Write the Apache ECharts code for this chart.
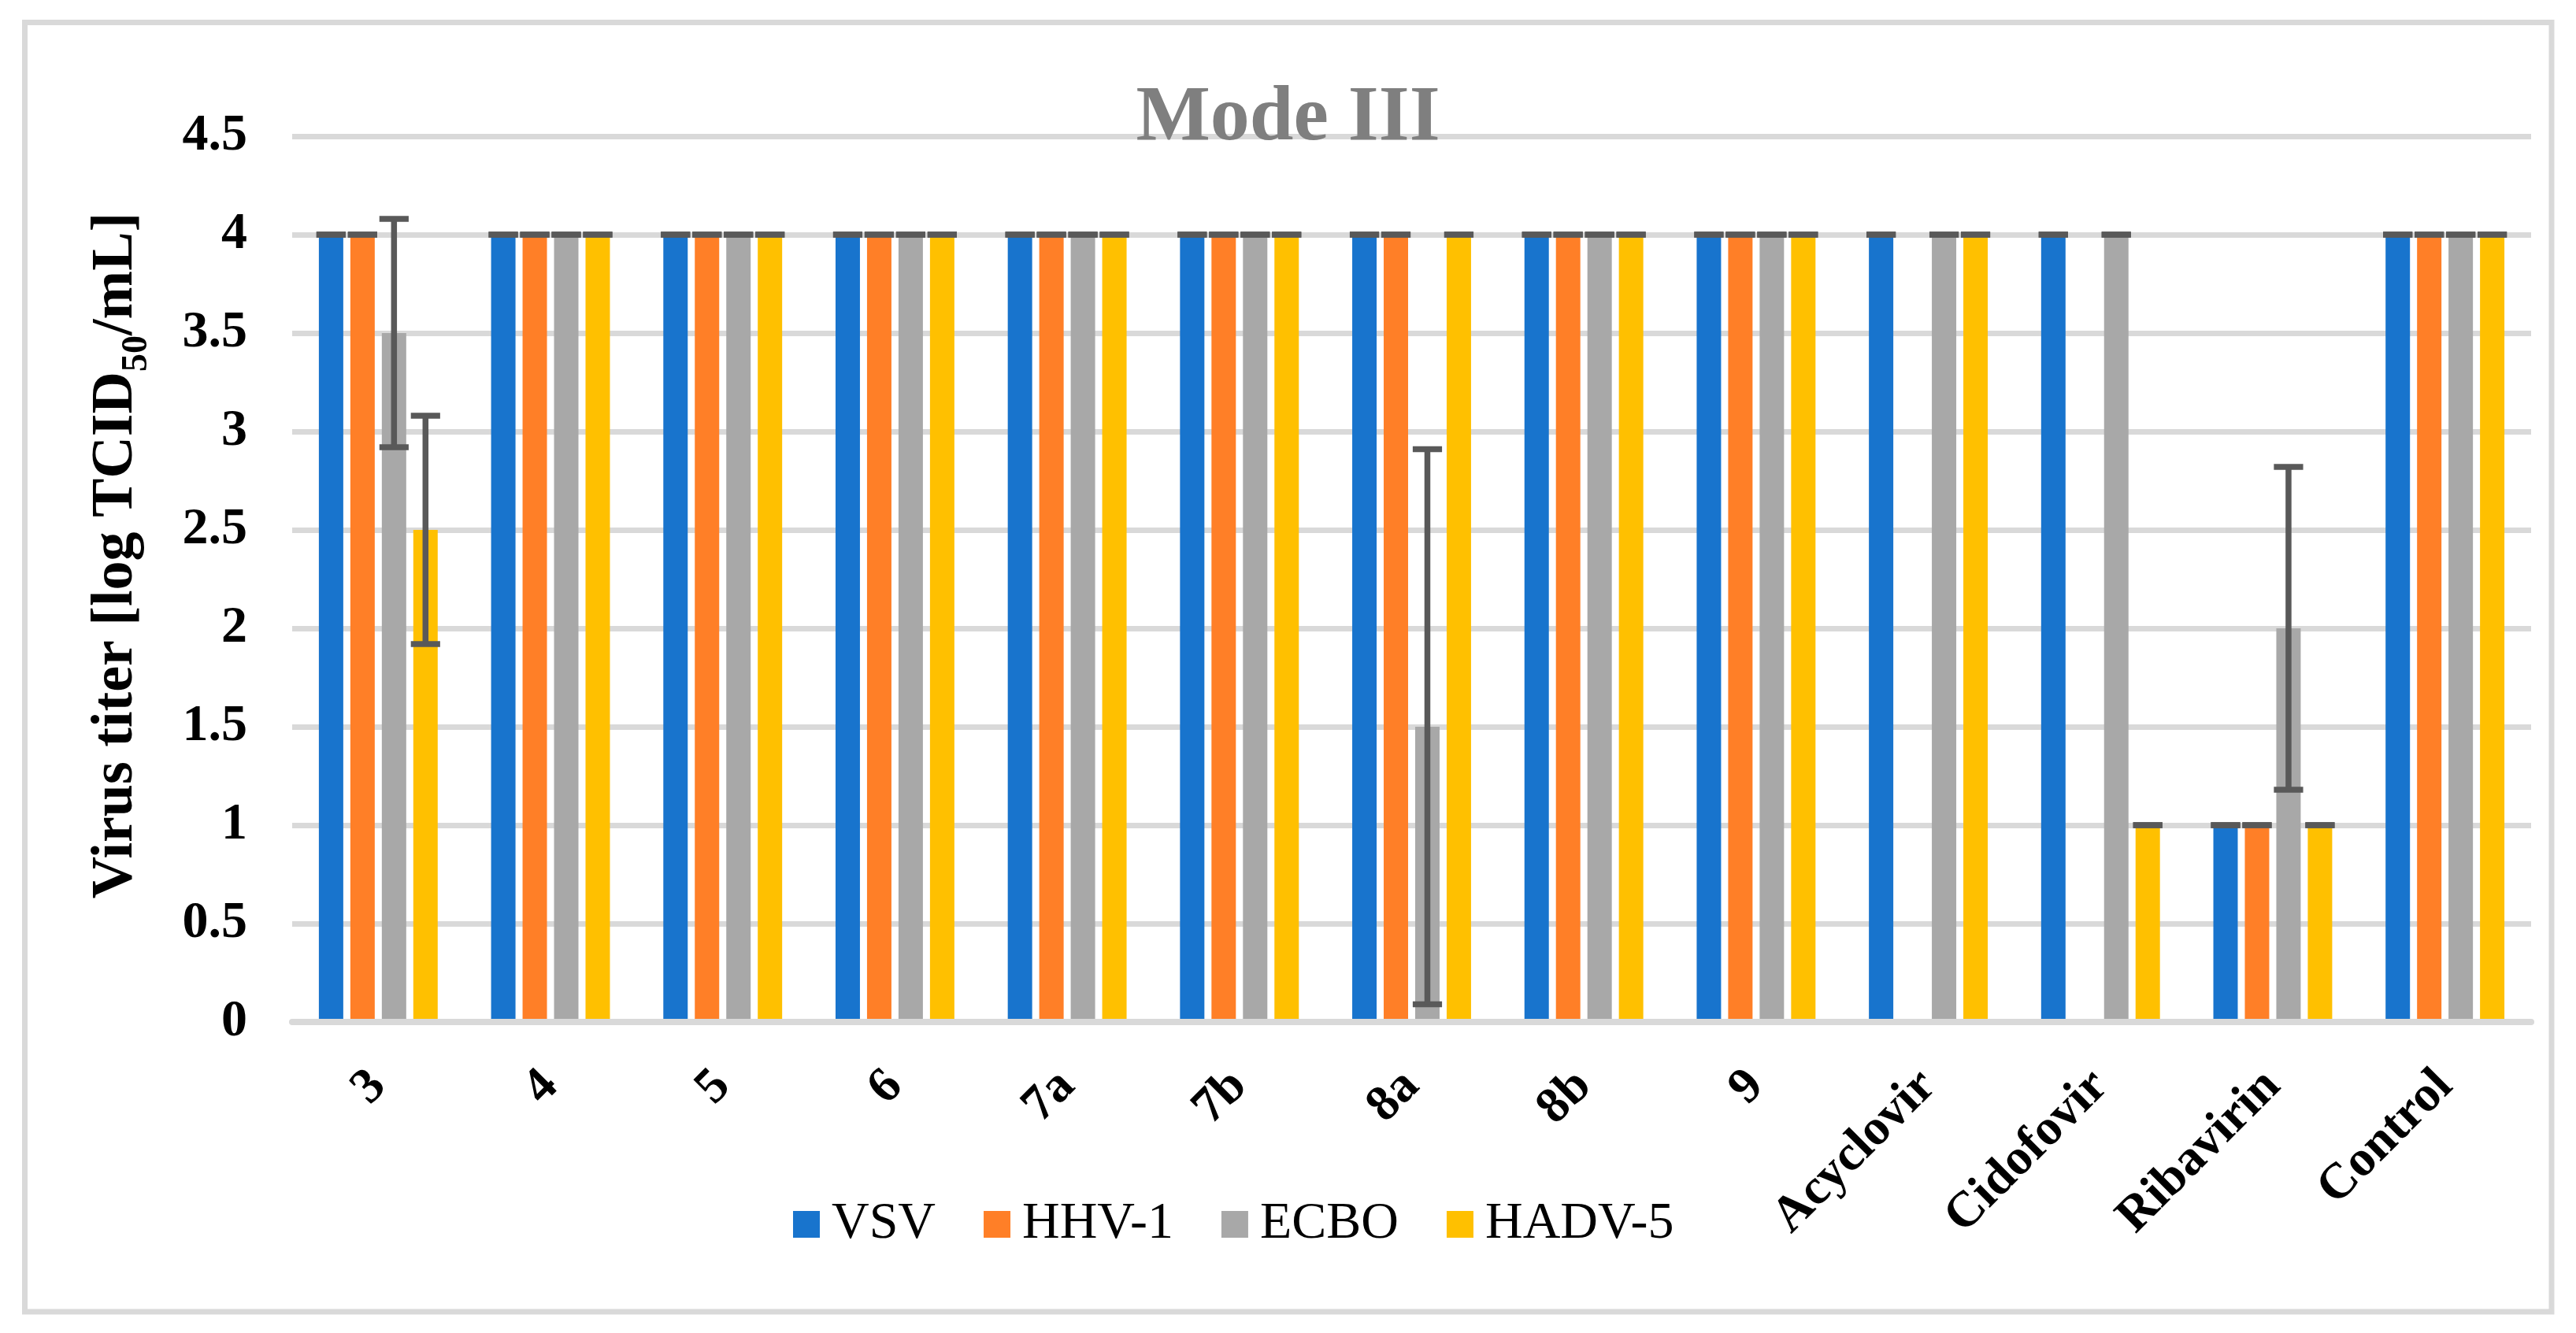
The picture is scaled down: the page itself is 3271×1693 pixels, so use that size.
<!DOCTYPE html>
<html>
<head>
<meta charset="utf-8">
<script src="https://cdn.jsdelivr.net/npm/echarts@6/dist/echarts.min.js"></script>
<style>
html,body{margin:0;padding:0;background:#fff;}
#chart{width:3271px;height:1693px;}
</style>
</head>
<body>
<div id="chart"></div>
<script>
const categories = ['3','4','5','6','7a','7b','8a','8b','9','Acyclovir','Cidofovir','Ribavirin','Control'];
const seriesNames = ['VSV','HHV-1','ECBO','HADV-5'];
const vsv   = [4,4,4,4,4,4,4,4,4,4,4,1,4];
const hhv1  = [4,4,4,4,4,4,4,4,4,null,null,1,4];
const ecbo  = [3.5,4,4,4,4,4,1.5,4,4,4,4,2,4];
const hadv5 = [2.5,4,4,4,4,4,4,4,4,4,1,1,4];
const vsvErr   = [0,0,0,0,0,0,0,0,0,0,0,0,0];
const hhv1Err  = [0,0,0,0,0,0,0,0,0,0,0,0,0];
const ecboErr  = [0.58,0,0,0,0,0,1.41,0,0,0,0,0.82,0];
const hadv5Err = [0.58,0,0,0,0,0,0,0,0,0,0,0,0];
const yTicks = [0,0.5,1,1.5,2,2.5,3,3.5,4,4.5];

const colors = ['#1874CD','#FF7F27','#A8A8A8','#FFC000'];
const FONT = '"Liberation Serif","Times New Roman",serif';
const CAT_GAP = 0.31, BAR_GAP = 0.29, N = 4;

const values = [vsv, hhv1, ecbo, hadv5];
const errs = [vsvErr, hhv1Err, ecboErr, hadv5Err];

function makeErrSeries(sIdx) {
  const data = [];
  values[sIdx].forEach((v, i) => {
    if (v !== null && v !== undefined) data.push([i, v, errs[sIdx][i]]);
  });
  return {
    type: 'custom',
    name: 'err' + sIdx,
    z: 10,
    silent: true,
    data: data,
    encode: { x: 0, y: 1 },
    renderItem: function (params, api) {
      const i = api.value(0), v = api.value(1), e = api.value(2);
      const band = api.size([1, 0])[0];
      const w = band * (1 - CAT_GAP) / (N + (N - 1) * BAR_GAP);
      const total = N * w + (N - 1) * BAR_GAP * w;
      const cx = api.coord([i, v])[0];
      const x = cx - total / 2 + sIdx * w * (1 + BAR_GAP) + w / 2;
      const yTop = api.coord([i, v + e])[1];
      const yBot = api.coord([i, v - e])[1];
      const half = w * 0.6;
      const st = { stroke: '#595959', lineWidth: 7.5 };
      const children = [
        { type: 'line', shape: { x1: x - half, y1: yTop, x2: x + half, y2: yTop }, style: st },
        { type: 'line', shape: { x1: x - half, y1: yBot, x2: x + half, y2: yBot }, style: st }
      ];
      if (e > 0) {
        children.push({ type: 'line', shape: { x1: x, y1: yTop, x2: x, y2: yBot }, style: st });
      }
      return { type: 'group', children: children };
    }
  };
}

const barSeries = seriesNames.map((name, s) => ({
  type: 'bar',
  name: name,
  data: values[s],
  barCategoryGap: (CAT_GAP * 100) + '%',
  barGap: (BAR_GAP * 100) + '%',
  itemStyle: { color: colors[s] },
  z: 2
}));

const chart = echarts.init(document.getElementById('chart'), null, { renderer: 'canvas' });
chart.setOption({
  animation: false,
  backgroundColor: '#ffffff',
  color: colors,
  title: {
    text: 'Mode III',
    left: 'center',
    top: 101,
    padding: 0,
    textStyle: { fontFamily: FONT, fontSize: 100, fontWeight: 'bold', color: '#7f7f7f' }
  },
  graphic: [{
    type: 'rect',
    shape: { x: 31.5, y: 28.5, width: 3208.5, height: 1637.5 },
    style: { fill: 'none', stroke: '#d9d9d9', lineWidth: 7 },
    silent: true,
    z: -1
  }],
  legend: {
    data: seriesNames,
    left: 1007,
    top: 1522,
    padding: 0,
    itemWidth: 34,
    itemHeight: 34,
    itemGap: 61,
    icon: 'rect',
    textStyle: { fontFamily: FONT, fontSize: 66, color: '#000', padding: [0, 0, 0, 10] }
  },
  grid: { left: 371, right: 57, top: 173, bottom: 395, containLabel: false },
  xAxis: {
    type: 'category',
    data: categories,
    z: 5,
    axisTick: { show: false },
    axisLine: { lineStyle: { color: '#d9d9d9', width: 8 } },
    axisLabel: {
      interval: 0,
      rotate: 45,
      margin: 72,
      fontFamily: FONT,
      fontSize: 64,
      fontWeight: 'bold',
      color: '#000'
    }
  },
  yAxis: {
    type: 'value',
    min: yTicks[0],
    max: yTicks[yTicks.length - 1],
    interval: 0.5,
    axisLine: { show: false },
    axisTick: { show: false },
    splitLine: { lineStyle: { color: '#d9d9d9', width: 7 } },
    axisLabel: {
      margin: 57,
      fontFamily: FONT,
      fontSize: 66,
      fontWeight: 'bold',
      color: '#000'
    },
    name: 'Virus titer [log TCID{s|50}/mL]',
    nameLocation: 'middle',
    nameRotate: 90,
    nameGap: 174,
    nameTextStyle: {
      fontFamily: FONT,
      fontSize: 74,
      fontWeight: 'bold',
      color: '#000',
      padding: [0, 0, 0, 60],
      rich: {
        s: { fontFamily: FONT, fontSize: 46, fontWeight: 'bold', color: '#000', padding: [52, 0, 0, 0] }
      }
    }
  },
  series: barSeries.concat([0, 1, 2, 3].map(makeErrSeries))
});
</script>
</body>
</html>
